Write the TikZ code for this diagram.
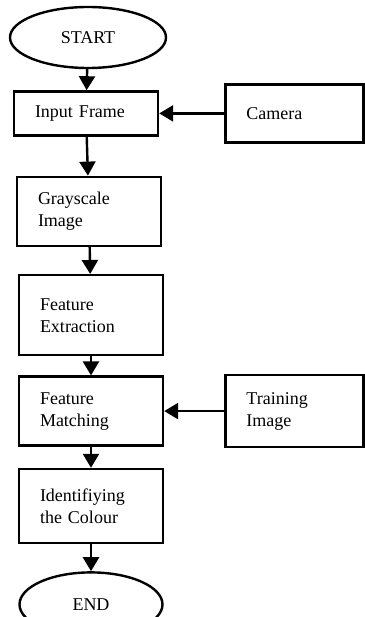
\documentclass[tikz,border=0pt]{standalone}
\usepackage{fontspec}
\setmainfont{Liberation Serif}
\usetikzlibrary{arrows.meta,shapes.geometric,positioning}

\begin{document}
\begin{tikzpicture}
        [
            line/.style = {
                draw,
                line width=2.4pt,
                -{Triangle[length=14pt,width=16pt]}
            },
            block/.style = {
                rectangle,
                draw,
                line width=2.4pt,
                text width=102pt,
                inner xsep=21pt,
                align=left,
                font=\fontsize{18}{22}\selectfont
            },
            side/.style = {
                block,
                text width=96pt
            },
            terminal/.style = {
                ellipse,
                draw,
                line width=2.4pt,
                inner sep=0pt,
                font=\fontsize{18}{22}\selectfont
            }
        ]
        \useasboundingbox (0pt,0pt) rectangle (364pt,-617pt);

        \node[terminal,minimum width=156pt,minimum height=61pt] (start) at (88pt,-37.5pt) {START};
        \node[block,minimum height=44pt,below=21pt of start,xshift=-2pt] (input) {Input Frame};
        \node[block,minimum height=69pt,below=39pt of input,xshift=3pt] (grayscale) {Grayscale\\Image};
        \node[block,minimum height=80pt,below=27pt of grayscale,xshift=2pt] (extract) {Feature\\Extraction};
        \node[block,minimum height=69pt,below=19pt of extract] (match) {Feature\\Matching};
        \node[block,minimum height=74pt,below=21pt of match] (identify) {Identifiying\\the Colour};
        \node[terminal,minimum width=143pt,minimum height=64pt,below=27pt of identify] (finish) {END};
        \node[side,minimum height=58pt,right=65pt of input] (camera) {Camera};
        \node[side,minimum height=72pt,right=60pt of match] (training) {Training\\Image};

        \path[line] (start) -- (input);
        \path[line] (camera) -- (input);
        \path[line] (input) -- (grayscale);
        \path[line] (grayscale) -- (extract);
        \path[line] (extract) -- (match);
        \path[line] (training) -- (match);
        \path[line] (match) -- (identify);
        \path[line] (identify) -- (finish);
    \end{tikzpicture}
\end{document}
